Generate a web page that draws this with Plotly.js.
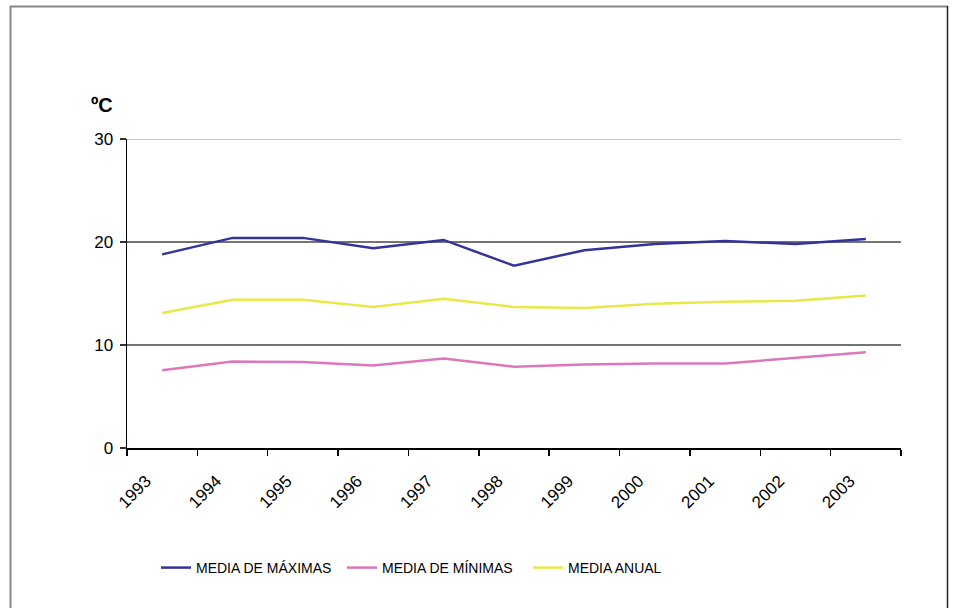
<!DOCTYPE html>
<html>
<head>
<meta charset="utf-8">
<script src="https://cdn.plot.ly/plotly-3.0.1.min.js"></script>
<style>html,body{margin:0;padding:0;background:#fff;}#chart{width:955px;height:608px;}</style>
</head>
<body>
<div id="chart"></div>
<script>
const years = ["1993","1994","1995","1996","1997","1998","1999","2000","2001","2002","2003"];
const mediaMaximas = [18.8, 20.4, 20.4, 19.4, 20.2, 17.7, 19.2, 19.8, 20.1, 19.8, 20.3];
const mediaMinimas = [7.55, 8.4, 8.35, 8.0, 8.7, 7.9, 8.1, 8.2, 8.2, 8.75, 9.3];
const mediaAnual = [13.1, 14.4, 14.4, 13.7, 14.5, 13.7, 13.6, 14.0, 14.2, 14.3, 14.8];
const seriesNames = ["MEDIA DE MÁXIMAS", "MEDIA DE MÍNIMAS", "MEDIA ANUAL"];
const yTicks = [0, 10, 20, 30];

const font = "Liberation Sans, Arial, sans-serif";
const traces = [
  {x: years, y: mediaMaximas, name: seriesNames[0], type: "scatter", mode: "lines", line: {color: "#333399", width: 2.5}},
  {x: years, y: mediaMinimas, name: seriesNames[1], type: "scatter", mode: "lines", line: {color: "#dd77bb", width: 2.5}},
  {x: years, y: mediaAnual, name: seriesNames[2], type: "scatter", mode: "lines", line: {color: "#e8e84a", width: 2.5}}
];

// plot area in pixels: x 127..901, y 139..448
const L = 127, R = 901, T = 139, B = 448;
const px = v => (v - L) / (R - L);
const py = v => (B - v) / (B - T);

const layout = {
  width: 955, height: 608,
  margin: {l: L, r: 955 - R, t: T, b: 608 - B},
  paper_bgcolor: "#ffffff", plot_bgcolor: "#ffffff",
  font: {family: font, color: "#000", size: 17},
  showlegend: true,
  title: {text: "<b>ºC</b>", font: {family: font, size: 20, color: "#000"}, xref: "container", yref: "container", x: 91/955, xanchor: "left", y: 1 - 105/608, yanchor: "middle"},
  xaxis: {
    type: "category", range: [-0.5, years.length - 0.5], tickson: "boundaries",
    showgrid: false, showline: true, linecolor: "#000", linewidth: 1.5,
    ticks: "outside", ticklen: 6, tickcolor: "#000", tickwidth: 1.5,
    tickangle: -45, tickfont: {family: font, size: 17, color: "#000"},
    ticklabelshift: -16, ticklabelstandoff: 15, fixedrange: true
  },
  yaxis: {
    range: [0, 30], tickvals: yTicks, ticktext: yTicks.map(String),
    showgrid: false, zeroline: false, showline: true, linecolor: "#000", linewidth: 1.5,
    ticks: "outside", ticklen: 6, tickcolor: "#333", tickwidth: 1.5,
    tickfont: {family: font, size: 17, color: "#000"}, ticklabelstandoff: 3, fixedrange: true
  },
  legend: {
    orientation: "h", xref: "container", yref: "container",
    x: 156/955, xanchor: "left", y: 1 - 568/608, yanchor: "middle",
    font: {family: font, size: 14, color: "#000"}, itemwidth: 30, tracegroupgap: 0,
    entrywidth: 141, entrywidthmode: "pixels"
  },
  shapes: [
    {type: "line", xref: "paper", yref: "y", x0: 0, x1: 1, y0: 10, y1: 10, line: {color: "#444", width: 1.5}, layer: "below"},
    {type: "line", xref: "paper", yref: "y", x0: 0, x1: 1, y0: 20, y1: 20, line: {color: "#444", width: 1.5}, layer: "below"},
    {type: "line", xref: "paper", yref: "y", x0: 0, x1: 1, y0: 30, y1: 30, line: {color: "#bbbbbb", width: 1.5}, layer: "below"},
    {type: "line", xref: "paper", yref: "paper", x0: px(10.5), x1: px(10.5), y0: py(6), y1: py(620), line: {color: "#888", width: 2}},
    {type: "line", xref: "paper", yref: "paper", x0: px(10), x1: px(948), y0: py(6.5), y1: py(6.5), line: {color: "#888", width: 2}},
    {type: "line", xref: "paper", yref: "paper", x0: px(947.5), x1: px(947.5), y0: py(6), y1: py(620), line: {color: "#222", width: 1.5}}
  ]
};

Plotly.newPlot("chart", traces, layout, {displayModeBar: false, staticPlot: true});
</script>
</body>
</html>
